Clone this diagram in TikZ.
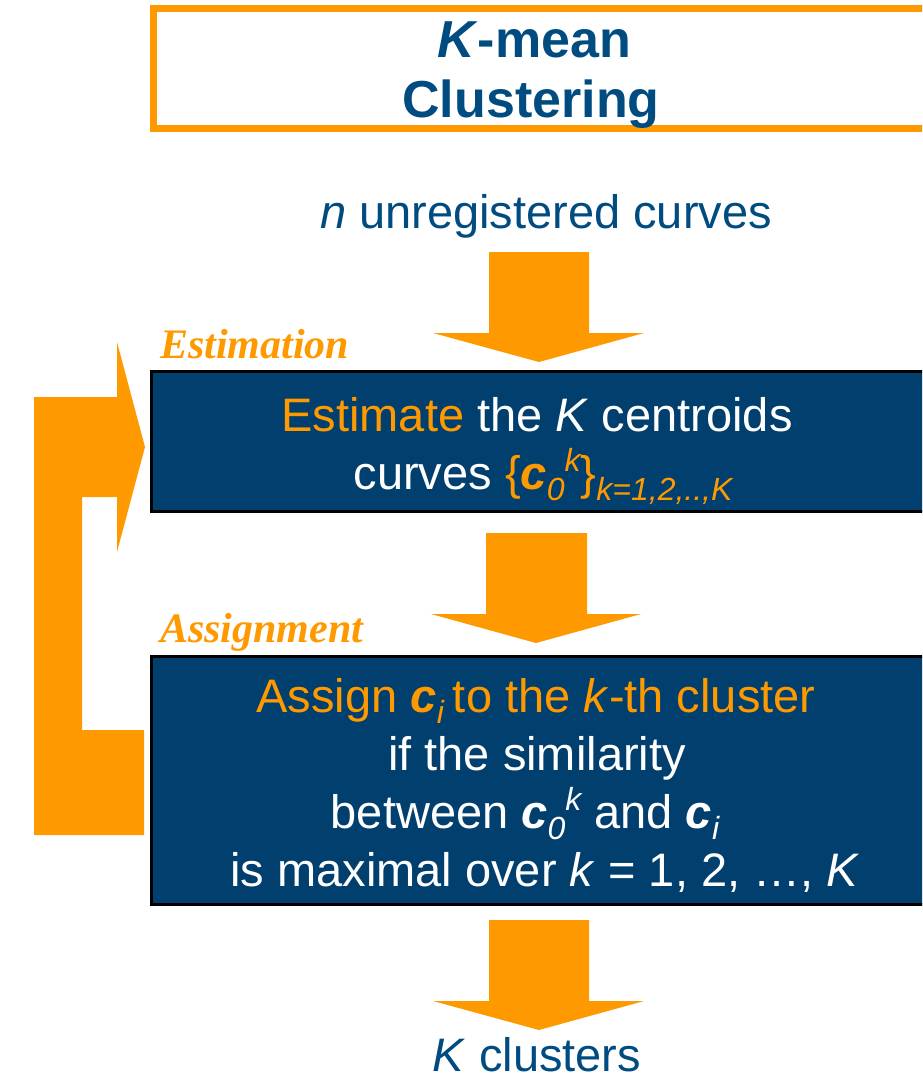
\documentclass[tikz,border=0pt]{standalone}
\usepackage{fontspec}
\setmainfont{Liberation Sans}
\newfontfamily\labelfont{Liberation Serif}
\definecolor{korange}{RGB}{255,153,0}
\definecolor{kbox}{RGB}{0,63,110}
\definecolor{ktext}{RGB}{0,75,128}
\newcommand{\fs}[1]{\fontsize{#1}{#1}\selectfont}
\newcommand{\lowpart}[1]{\raisebox{-11pt}{\fs{32}\itshape #1}}
\newcommand{\highpart}[1]{\raisebox{18pt}{\fs{32}\itshape #1}}
\newcommand{\vc}{{\bfseries\itshape c}}
\begin{document}
\begin{tikzpicture}[x=1pt,y=-1pt,
  every node/.style={inner sep=0pt, outer sep=0pt},
  blockarrow/.style={fill=korange, draw=none},
  titletext/.style={text=ktext, font=\bfseries\fs{52}, anchor=base},
  plaintext/.style={text=ktext, font=\fs{47}, anchor=base},
  boxtext/.style={text=white, font=\fs{47}, anchor=base},
  steplabel/.style={text=korange, font=\labelfont\bfseries\itshape\fs{42}, anchor=base west},
  darkbox/.style={draw=black, line width=3pt, fill=kbox, anchor=north west}]
\useasboundingbox (0,0) rectangle (922,1081);
\clip (0,0) rectangle (922,1081);

% title box
\node[draw=korange, line width=7pt, anchor=north west, minimum width=790pt, minimum height=120pt] (top) at (153.5,8.5) {};
\node[titletext] (t1) at (534,58) {\textit{K}-mean};
\node[titletext] (t2) at (531,117) {Clustering};

% input
\node[plaintext] (input) at (546,228) {\textit{n} unregistered curves};

% arrow 1
\fill[blockarrow] (489,252) -- (589,252) -- (589,333) -- (644,333) -- (539,362) -- (433,333) -- (489,333) -- cycle;

% estimation
\node[steplabel] (estlab) at (160,358) {Estimation};
\node[darkbox, minimum width=800pt, minimum height=140pt] (est) at (151.5,371.5) {};
\node[boxtext] (e1) at (537,431) {\textcolor{korange}{Estimate} the \textit{K} centroids};
\node[boxtext] (e2) at (543,489) {curves \textcolor{korange}{\{\vc\lowpart{0}\highpart{k}\}\lowpart{k=1,2,..,K}}};

% arrow 2
\fill[blockarrow] (486,533) -- (587,533) -- (587,614) -- (641,614) -- (536,643) -- (431,614) -- (486,614) -- cycle;

% assignment
\node[steplabel] (asslab) at (160,642) {Assignment};
\node[darkbox, minimum width=800pt, minimum height=248pt] (ass) at (151.5,656.5) {};
\node[boxtext, text=korange] (a1) at (536,712) {Assign \vc\lowpart{i}\hspace{-4pt} to the \textit{k}-th cluster};
\node[boxtext] (a2) at (537,770) {if the similarity};
\node[boxtext] (a3) at (525,828) {between \vc\lowpart{0}\highpart{k} and \vc\lowpart{i}};
\node[boxtext] (a4) at (545,886) {is maximal over \textit{k} = 1, 2, …, \textit{K}};

% feedback arrow
\fill[blockarrow] (34,397) -- (117,397) -- (117,342) -- (145,447) -- (117,552) -- (117,497) -- (82,497) -- (82,730) -- (144,730) -- (144,835) -- (34,835) -- cycle;

% arrow 3
\fill[blockarrow] (489,920) -- (589,920) -- (589,1001) -- (644,1001) -- (539,1030) -- (433,1001) -- (489,1001) -- cycle;

% output
\node[plaintext] (output) at (537,1071) {\textit{K} clusters};
\end{tikzpicture}
\end{document}
